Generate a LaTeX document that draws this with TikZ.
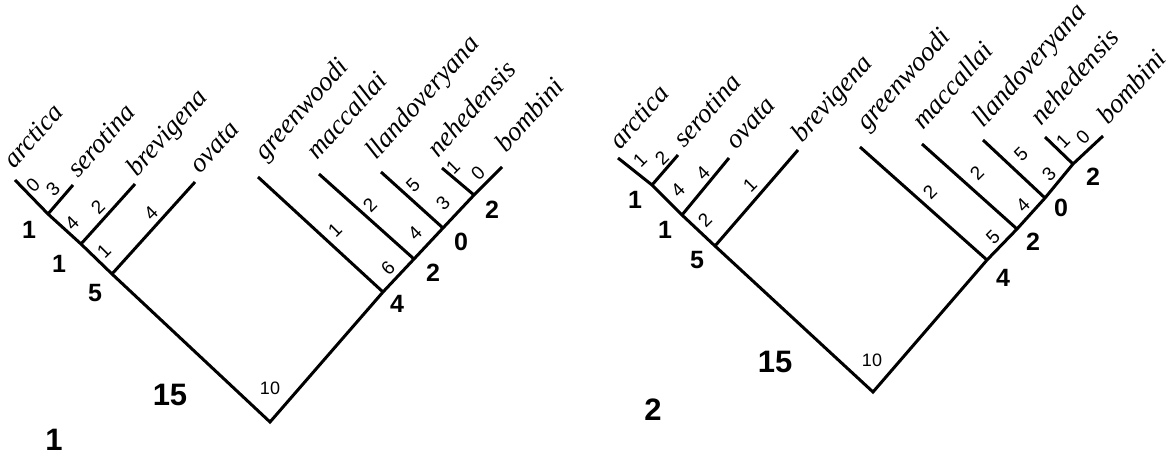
\documentclass[tikz,border=0pt]{standalone}
\usepackage{fontspec}
\newfontfamily\hv{Liberation Sans}
\newfontfamily\nmfont{Liberation Serif}
\begin{document}
\begin{tikzpicture}[x=1pt,y=-1pt,
  br/.style={line width=3pt, line join=miter},
  nm/.style={font=\nmfont\itshape\fontsize{27}{27}\selectfont, anchor=base west, rotate=48, inner sep=0pt},
  sd/.style={font=\hv\fontsize{19}{19}\selectfont, rotate=45, inner sep=0pt},
  tn/.style={font=\hv\fontsize{18}{18}\selectfont, inner sep=0pt},
  bd/.style={font=\hv\bfseries\fontsize{25}{25}\selectfont, inner sep=0pt},
  big/.style={font=\hv\bfseries\fontsize{31}{31}\selectfont, inner sep=0pt}]
\useasboundingbox (0,0) rectangle (1170,457);

% ---------------- Figure 1 ----------------
\coordinate (R1) at (270,422);
\coordinate (O1) at (112,274);
\coordinate (B1) at (81,244);
\coordinate (S1) at (48,214);
\coordinate (A1) at (15,180);
\coordinate (G1) at (383,292);
\coordinate (M1) at (414,259);
\coordinate (L1) at (443,228);
\coordinate (N1) at (474,195);
\coordinate (Bo1) at (502,167);
\coordinate (tS1) at (73,185);
\coordinate (tB1) at (135,184);
\coordinate (tO1) at (195,182);
\coordinate (tG1) at (258,177);
\coordinate (tM1) at (319,174);
\coordinate (tL1) at (381,172);
\coordinate (tN1) at (442,168);

\draw[br] (A1) -- (S1) -- (B1) -- (O1) -- (R1) -- (G1) -- (M1) -- (L1) -- (N1) -- (Bo1);
\draw[br] (S1) -- (tS1);
\draw[br] (B1) -- (tB1);
\draw[br] (O1) -- (tO1);
\draw[br] (G1) -- (tG1);
\draw[br] (M1) -- (tM1);
\draw[br] (L1) -- (tL1);
\draw[br] (N1) -- (tN1);

\node[nm] (nA1) at (14,170) {arctica};
\node[nm] (nS1) at (78,179) {serotina};
\node[nm] (nB1) at (137,178) {brevigena};
\node[nm] (nO1) at (200,175) {ovata};
\node[nm] (nG1) at (265,162) {greenwoodi};
\node[nm] (nM1) at (317,161) {maccallai};
\node[nm] (nL1) at (376,161) {llandoveryana};
\node[nm] (nN1) at (438,159) {nehedensis};
\node[nm] (nBo1) at (506,154) {bombini};

\node[sd] (d1a) at (33,185) {0};
\node[sd] (d1b) at (53,189) {3};
\node[sd] (d1c) at (72,223) {4};
\node[sd] (d1d) at (98,207) {2};
\node[sd] (d1e) at (104,251) {1};
\node[sd] (d1f) at (151,213) {4};
\node[sd] (d1g) at (335,230) {1};
\node[sd] (d1h) at (370,205) {2};
\node[sd] (d1i) at (388,268) {6};
\node[sd] (d1j) at (415,233) {4};
\node[sd] (d1k) at (413,185) {5};
\node[sd] (d1l) at (443,203) {3};
\node[sd] (d1m) at (453,167) {1};
\node[sd] (d1n) at (478,173) {0};
\node[tn] (d1o) at (270,388) {10};

\node[bd] (b1a) at (29,230) {1};
\node[bd] (b1b) at (59,264) {1};
\node[bd] (b1c) at (95,293) {5};
\node[bd] (b1d) at (397,304) {4};
\node[bd] (b1e) at (433,273) {2};
\node[bd] (b1f) at (461,242) {0};
\node[bd] (b1g) at (492,210) {2};
\node[big] (b1h) at (170,395) {15};
\node[big] (f1) at (54,440) {1};

% ---------------- Figure 2 ----------------
\coordinate (R2) at (873,392);
\coordinate (V2) at (715,246);
\coordinate (O2) at (682,215);
\coordinate (S2) at (652,185);
\coordinate (A2) at (618,158);
\coordinate (G2) at (987,260);
\coordinate (M2) at (1017,229);
\coordinate (L2) at (1045,198);
\coordinate (N2) at (1073,164);
\coordinate (Bo2) at (1103,136);
\coordinate (tS2) at (678,155);
\coordinate (tO2) at (729,158);
\coordinate (tV2) at (798,150);
\coordinate (tG2) at (860,147);
\coordinate (tM2) at (922,144);
\coordinate (tL2) at (983,140);
\coordinate (tN2) at (1045,137);

\draw[br] (A2) -- (S2) -- (O2) -- (V2) -- (R2) -- (G2) -- (M2) -- (L2) -- (N2) -- (Bo2);
\draw[br] (S2) -- (tS2);
\draw[br] (O2) -- (tO2);
\draw[br] (V2) -- (tV2);
\draw[br] (G2) -- (tG2);
\draw[br] (M2) -- (tM2);
\draw[br] (L2) -- (tL2);
\draw[br] (N2) -- (tN2);

\node[nm] (nA2) at (620,151) {arctica};
\node[nm] (nS2) at (684,149) {serotina};
\node[nm] (nO2) at (736,151) {ovata};
\node[nm] (nV2) at (802,144) {brevigena};
\node[nm] (nG2) at (867,132) {greenwoodi};
\node[nm] (nM2) at (923,131) {maccallai};
\node[nm] (nL2) at (983,129) {llandoveryana};
\node[nm] (nN2) at (1041,127) {nehedensis};
\node[nm] (nBo2) at (1108,126) {bombini};

\node[sd] (d2a) at (640,160) {1};
\node[sd] (d2b) at (662,158) {2};
\node[sd] (d2c) at (678,190) {4};
\node[sd] (d2d) at (703,173) {4};
\node[sd] (d2e) at (705,220) {2};
\node[sd] (d2f) at (750,185) {1};
\node[sd] (d2g) at (930,192) {2};
\node[sd] (d2h) at (977,173) {2};
\node[sd] (d2i) at (993,237) {5};
\node[sd] (d2j) at (1023,205) {4};
\node[sd] (d2k) at (1021,154) {5};
\node[sd] (d2l) at (1049,174) {3};
\node[sd] (d2m) at (1063,141) {1};
\node[sd] (d2n) at (1083,137) {0};
\node[tn] (d2o) at (872,360) {10};

\node[bd] (b2a) at (635,200) {1};
\node[bd] (b2b) at (665,230) {1};
\node[bd] (b2c) at (697,260) {5};
\node[bd] (b2d) at (1003,278) {4};
\node[bd] (b2e) at (1033,242) {2};
\node[bd] (b2f) at (1061,208) {0};
\node[bd] (b2g) at (1093,177) {2};
\node[big] (b2h) at (775,362) {15};
\node[big] (f2) at (653,410) {2};
\end{tikzpicture}
\end{document}
